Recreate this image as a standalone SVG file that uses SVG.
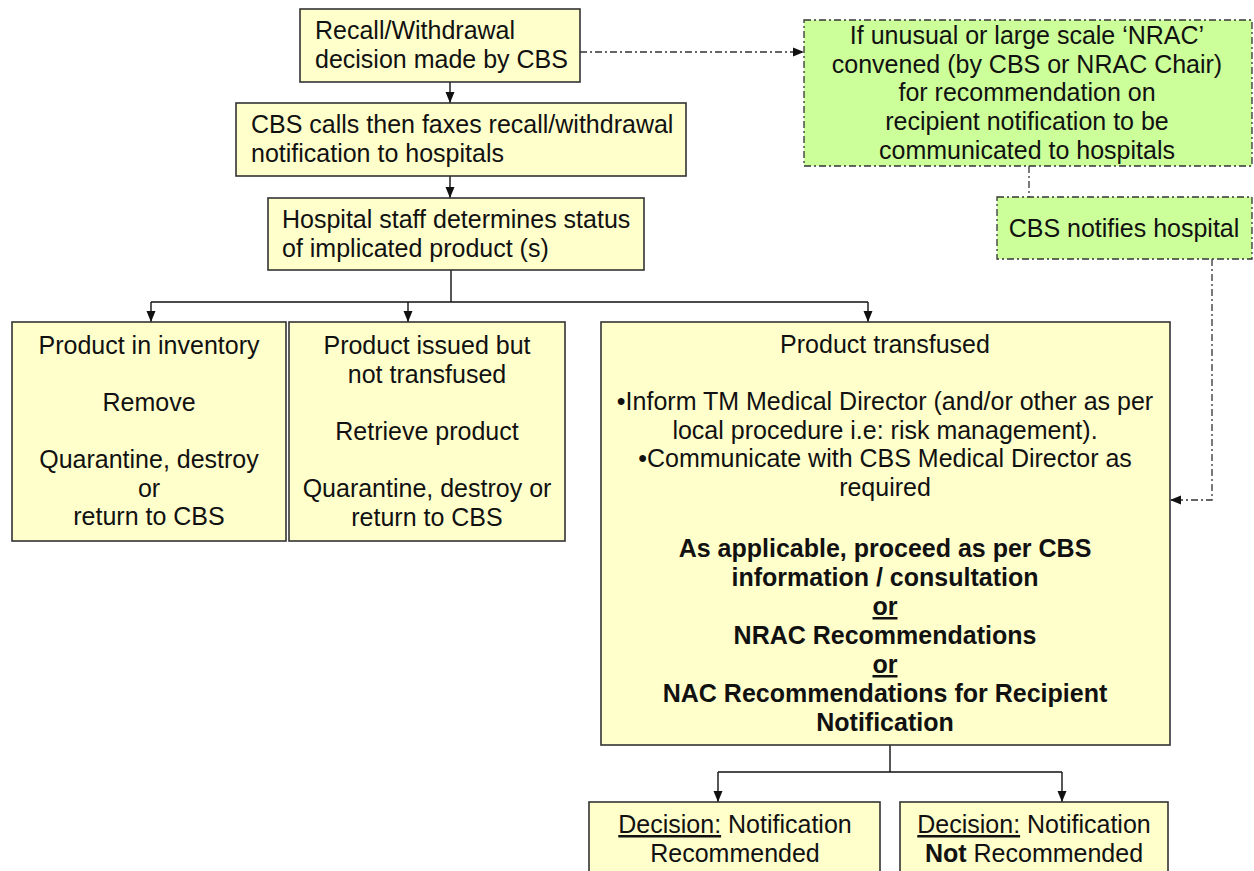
<svg xmlns="http://www.w3.org/2000/svg" width="1254" height="871" viewBox="0 0 1254 871">
<style>
.box{fill:#ffffcc;stroke:#333;stroke-width:1.6}
.gbox{fill:#ccff99;stroke:#333;stroke-width:1.3;stroke-dasharray:7 3 2 3}
.t{font-family:"Liberation Sans",Arial,sans-serif;font-size:25px;fill:#111}
.c{text-anchor:middle}
.b{font-weight:bold}
.ln{fill:none;stroke:#111;stroke-width:1.4}
.dd{fill:none;stroke:#333;stroke-width:1.3;stroke-dasharray:7 3 2 3}
</style>
<defs>
<marker id="ah" markerUnits="userSpaceOnUse" markerWidth="12" markerHeight="12" viewBox="0 0 12 12" refX="11" refY="6" orient="auto">
<path d="M0,1.5 L11,6 L0,10.5 Z" fill="#111"/>
</marker>
</defs>
<g id="connectors">
<path class="ln" d="M450,82 V103" marker-end="url(#ah)"/>
<path class="ln" d="M450,176 V198" marker-end="url(#ah)"/>
<path class="ln" d="M451,270 V302 M151,302 H868"/>
<path class="ln" d="M151,302 V322" marker-end="url(#ah)"/>
<path class="ln" d="M408,302 V322" marker-end="url(#ah)"/>
<path class="ln" d="M868,302 V322" marker-end="url(#ah)"/>
<path class="ln" d="M890,745 V772 M718,772 H1062"/>
<path class="ln" d="M718,772 V802" marker-end="url(#ah)"/>
<path class="ln" d="M1062,772 V802" marker-end="url(#ah)"/>
<path class="dd" d="M580,52 H804" marker-end="url(#ah)"/>
<path class="dd" d="M1029,166 V197"/>
<path class="dd" d="M1212,259 V500 H1170" marker-end="url(#ah)"/>
</g>
<g id="n1">
<rect class="box" x="300" y="9" width="280" height="73"/>
<text class="t" x="315" y="39">Recall/Withdrawal</text>
<text class="t" x="315" y="68">decision made by CBS</text>
</g>
<g id="n2">
<rect class="box" x="236" y="103" width="450" height="73"/>
<text class="t" x="251" y="133">CBS calls then faxes recall/withdrawal</text>
<text class="t" x="251" y="162">notification to hospitals</text>
</g>
<g id="n3">
<rect class="box" x="268" y="198" width="376" height="72"/>
<text class="t" x="282" y="228">Hospital staff determines status</text>
<text class="t" x="282" y="257">of implicated product (s)</text>
</g>
<g id="nrac">
<rect class="gbox" x="804" y="20" width="448" height="146"/>
<text class="t c" x="1027" y="44">If unusual or large scale ‘NRAC’</text>
<text class="t c" x="1027" y="72.5">convened (by CBS or NRAC Chair)</text>
<text class="t c" x="1027" y="101">for recommendation on</text>
<text class="t c" x="1027" y="130">recipient notification to be</text>
<text class="t c" x="1027" y="158.5">communicated to hospitals</text>
</g>
<g id="notify">
<rect class="gbox" x="997" y="197" width="255" height="62"/>
<text class="t c" x="1124" y="237">CBS notifies hospital</text>
</g>
<g id="inventory">
<rect class="box" x="12" y="322" width="274" height="219"/>
<text class="t c" x="149" y="354">Product in inventory</text>
<text class="t c" x="149" y="411">Remove</text>
<text class="t c" x="149" y="468">Quarantine, destroy</text>
<text class="t c" x="149" y="496.5">or</text>
<text class="t c" x="149" y="525">return to CBS</text>
</g>
<g id="issued">
<rect class="box" x="289" y="322" width="276" height="219"/>
<text class="t c" x="427" y="354">Product issued but</text>
<text class="t c" x="427" y="382.5">not transfused</text>
<text class="t c" x="427" y="439.5">Retrieve product</text>
<text class="t c" x="427" y="497">Quarantine, destroy or</text>
<text class="t c" x="427" y="525.5">return to CBS</text>
</g>
<g id="transfused">
<rect class="box" x="601" y="322" width="569" height="423"/>
<text class="t c" x="885" y="353">Product transfused</text>
<text class="t c" x="885" y="410">•Inform TM Medical Director (and/or other as per</text>
<text class="t c" x="885" y="439">local procedure i.e: risk management).</text>
<text class="t c" x="885" y="467">•Communicate with CBS Medical Director as</text>
<text class="t c" x="885" y="496">required</text>
<text class="t c b" x="885" y="557">As applicable, proceed as per CBS</text>
<text class="t c b" x="885" y="586">information / consultation</text>
<text class="t c b" x="885" y="615" text-decoration="underline">or</text>
<text class="t c b" x="885" y="644">NRAC Recommendations</text>
<text class="t c b" x="885" y="673" text-decoration="underline">or</text>
<text class="t c b" x="885" y="702">NAC Recommendations for Recipient</text>
<text class="t c b" x="885" y="731">Notification</text>
</g>
<g id="recommended">
<rect class="box" x="589" y="802" width="291" height="80"/>
<text class="t c" x="735" y="833"><tspan text-decoration="underline">Decision:</tspan> Notification</text>
<text class="t c" x="735" y="862">Recommended</text>
</g>
<g id="notrecommended">
<rect class="box" x="900" y="802" width="268" height="80"/>
<text class="t c" x="1034" y="833"><tspan text-decoration="underline">Decision:</tspan> Notification</text>
<text class="t c" x="1034" y="862"><tspan class="b">Not</tspan> Recommended</text>
</g>
</svg>
